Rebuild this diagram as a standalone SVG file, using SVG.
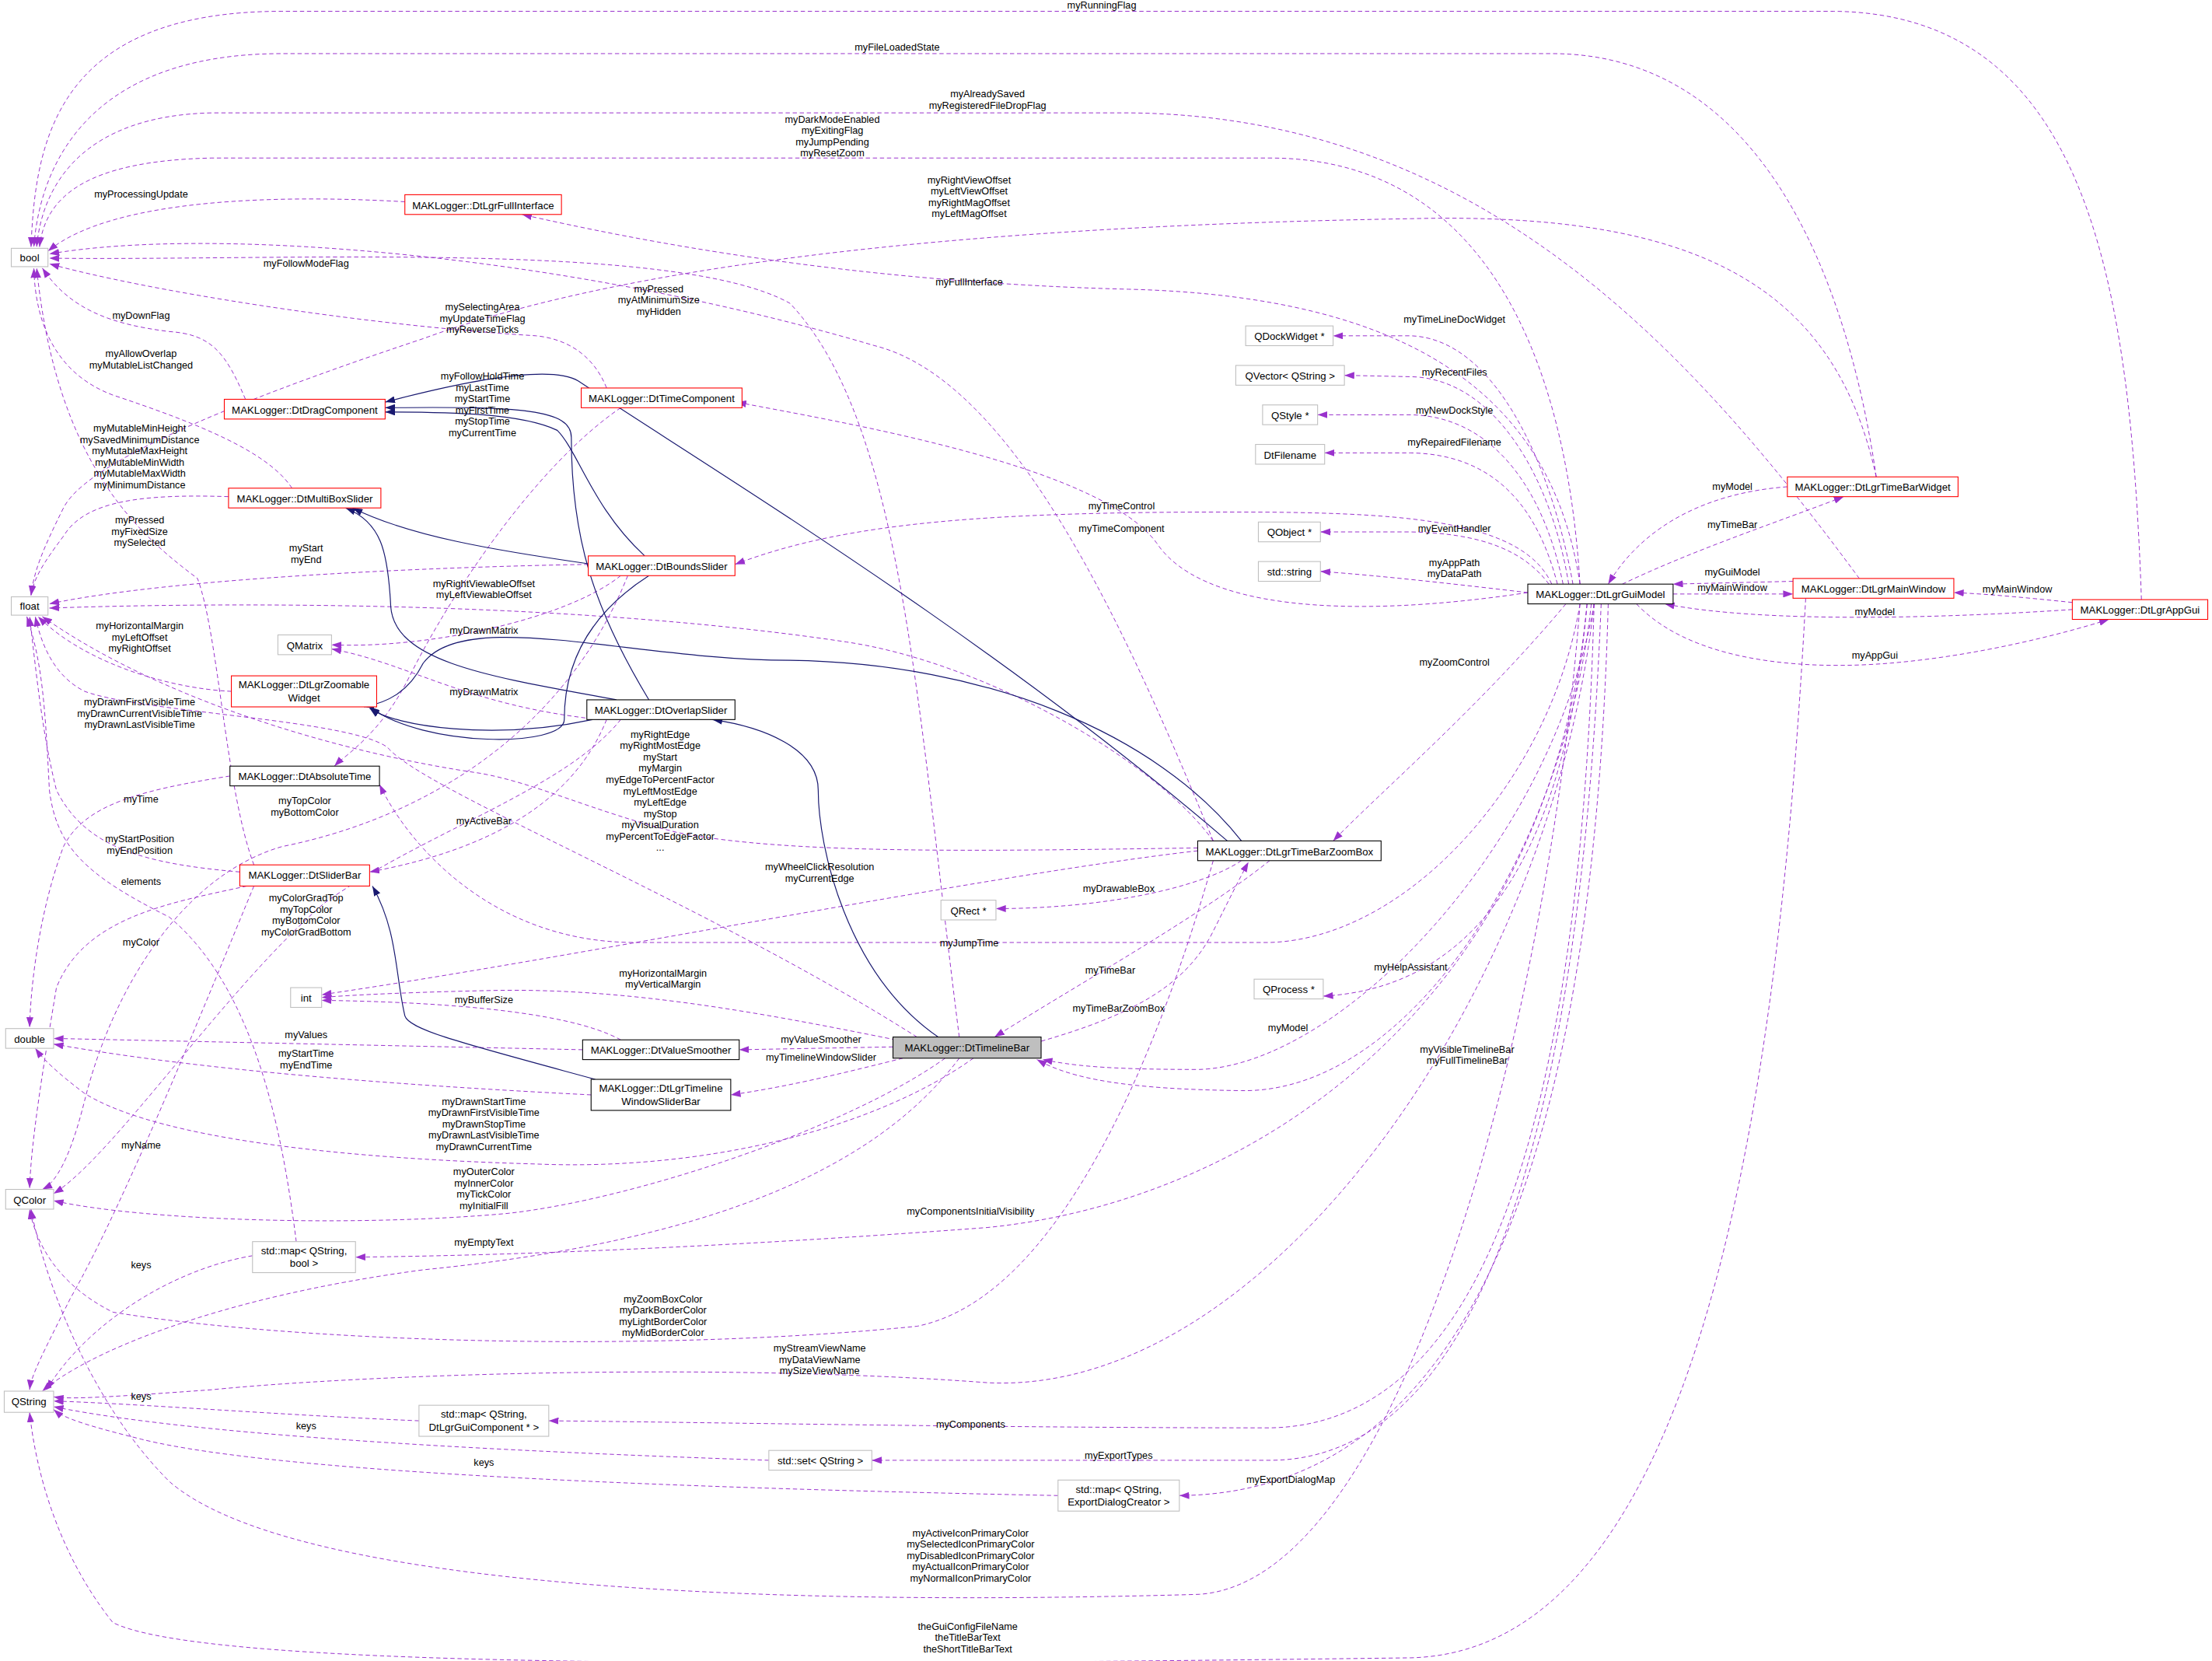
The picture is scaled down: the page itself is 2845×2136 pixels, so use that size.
<svg xmlns="http://www.w3.org/2000/svg" width="2845" height="2136" viewBox="0 0 2845 2136">
<style>
.n rect{fill:#fff;stroke-width:0.6}
.r rect{stroke:#ff0000}
.b rect{stroke:#000}
.g rect{stroke:#bfbfbf}
.n text{font-family:"Liberation Sans",Arial,sans-serif;font-size:7.3px;fill:#000;text-anchor:middle}
.e path{fill:none;stroke:#9a32cd;stroke-width:0.55;stroke-dasharray:3,2;marker-end:url(#pa)}
.i path{fill:none;stroke:#191970;stroke-width:0.65;marker-end:url(#na)}
.l text{font-family:"Liberation Sans",Arial,sans-serif;font-size:7px;fill:#000;text-anchor:middle}
</style>
<defs>
<marker id="pa" markerUnits="userSpaceOnUse" markerWidth="7" markerHeight="5" refX="7" refY="2.5" orient="auto"><path d="M0,0 L7,2.5 L0,5 z" fill="#9a32cd"/></marker>
<marker id="na" markerUnits="userSpaceOnUse" markerWidth="7" markerHeight="5" refX="7" refY="2.5" orient="auto"><path d="M0,0 L7,2.5 L0,5 z" fill="#191970"/></marker>
</defs>
<rect width="2845" height="2136" fill="#fff"/>
<g transform="scale(1.8144)">
<g id="connectors">
<g class="e">
<path d="M1518,425 C1510,200 1480,10 1300,8 L200,8 C40,8 25,100 22,175"/>
<path d="M1330,338 C1310,200 1250,38 1100,38 L200,38 C60,38 28,120 24,175"/>
<path d="M1318,410 C1200,250 1050,82 800,80 L150,80 C60,82 30,130 26,175"/>
<path d="M1120,414 C1110,250 1050,112 900,112 L150,112 C60,114 32,140 28,175"/>
<path d="M287,143 C200,138 80,140 34,178"/>
<path d="M680,735 C650,500 640,300 560,215 C480,170 200,185 35,183"/>
<path d="M860,596 C800,450 720,270 620,245 C400,180 150,160 35,180"/>
<path d="M430,275 C420,250 400,240 380,238 C250,230 100,205 35,187"/>
<path d="M174,283 C160,250 150,237 120,235 C80,230 50,220 30,190"/>
<path d="M207,346 C190,320 140,300 80,280 C40,265 25,230 24,190"/>
<path d="M180,613 C160,560 155,450 140,410 C100,380 40,330 26,190"/>
<path d="M162,352 C100,350 60,355 45,380 C30,400 24,410 22,422"/>
<path d="M417,400 C300,402 120,410 35,428"/>
<path d="M860,596 C820,540 700,470 600,455 C400,425 150,427 35,431"/>
<path d="M164,490 C120,488 60,470 27,437"/>
<path d="M650,735 C500,640 300,560 275,530 C250,510 100,505 60,490 C40,480 30,460 25,437"/>
<path d="M849,601 C700,603 560,606 480,590 C420,575 380,555 340,548 C250,535 120,500 30,437"/>
<path d="M170,618 C100,612 60,600 40,560 C30,520 26,480 21,437"/>
<path d="M210,880 C200,800 180,700 120,650 C60,620 40,600 35,560 C32,500 30,470 19,437"/>
<path d="M1330,338 C1300,200 1200,150 1000,155 C700,160 450,185 300,240 C150,290 60,330 45,360 C30,390 24,405 22,422"/>
<path d="M163,550 C100,560 60,570 45,600 C30,640 22,690 21,728"/>
<path d="M413,744 L38,736"/>
<path d="M419,776 C300,770 150,760 38,740"/>
<path d="M690,750 C620,800 500,830 380,825 C200,820 100,800 60,775 C40,760 30,750 25,743"/>
<path d="M175,628 C120,640 60,650 40,700 C30,760 22,810 21,842"/>
<path d="M445,408 C400,520 300,580 200,600 C130,620 80,700 60,780 C50,820 40,838 30,843"/>
<path d="M440,510 C400,560 300,590 230,640 C160,700 80,820 38,846"/>
<path d="M670,750 C600,800 450,850 360,860 C250,870 100,865 38,851"/>
<path d="M860,610 C820,750 750,920 650,940 C450,960 200,950 80,930 C40,910 25,880 21,857"/>
<path d="M1120,428 C1100,700 1000,1120 850,1130 C500,1140 200,1120 120,1050 C60,990 30,900 22,857"/>
<path d="M849,603 C700,620 400,680 228,705"/>
<path d="M640,738 C550,720 450,700 350,702 C300,703 250,705 228,707"/>
<path d="M440,737 C400,715 300,710 228,709"/>
<path d="M180,628 C150,700 90,850 50,920 C30,960 22,975 21,985"/>
<path d="M179,890 C120,900 60,940 33,985"/>
<path d="M680,750 C620,830 500,880 300,900 C150,920 60,960 30,986"/>
<path d="M1130,428 C1100,700 900,990 700,980 C500,965 250,975 150,985 C80,990 50,992 38,990"/>
<path d="M297,1007 C200,1003 100,995 38,993"/>
<path d="M545,1035 C400,1030 150,1020 38,997"/>
<path d="M750,1060 C500,1055 200,1045 100,1020 C60,1010 45,1005 38,999"/>
<path d="M1280,424 C1260,800 1200,1170 1000,1175 C600,1180 150,1185 80,1150 C40,1100 25,1040 21,1001"/>
<path d="M1125,428 C1100,700 900,850 700,870 C500,885 350,890 252,891"/>
<path d="M1130,428 C1120,800 1050,1010 900,1012 C700,1012 500,1008 389,1007"/>
<path d="M1135,428 C1120,800 1050,1035 900,1035 L618,1035"/>
<path d="M1140,428 C1130,800 1050,1058 836,1060"/>
<path d="M1115,414 C1100,330 1060,240 1000,238 L945,238"/>
<path d="M1112,414 C1100,340 1060,268 1000,267 L953,266"/>
<path d="M1108,414 C1095,350 1060,295 1000,294 L934,294"/>
<path d="M1104,414 C1090,360 1060,322 1000,321 L939,321"/>
<path d="M1098,414 C1080,390 1050,378 1000,377 L936,377"/>
<path d="M1083,420 C1040,415 980,408 936,405"/>
<path d="M1100,414 C1080,370 1000,364 900,363 C700,362 600,370 521,400"/>
<path d="M1083,420 C950,440 850,430 820,385 C780,330 600,300 522,285"/>
<path d="M1120,414 C1100,280 1000,210 800,205 C600,200 450,170 370,152"/>
<path d="M1110,428 C1050,500 980,560 945,596"/>
<path d="M1120,428 C1100,550 1000,665 900,668 L450,668 C350,668 290,600 269,556"/>
<path d="M1125,428 C1110,600 1050,700 938,706"/>
<path d="M1130,428 C1100,600 950,755 850,758 C780,758 760,755 739,751"/>
<path d="M1128,428 C1110,600 1000,775 880,773 C800,772 760,765 735,751"/>
<path d="M900,610 C850,650 760,700 705,735"/>
<path d="M738,738 C800,720 840,700 860,660 C870,640 880,620 885,611"/>
<path d="M880,610 C850,630 780,644 706,644"/>
<path d="M633,742 L524,744"/>
<path d="M640,750 C600,760 560,770 518,776"/>
<path d="M430,510 C410,560 360,600 262,618"/>
<path d="M440,289 C380,330 320,420 290,480 C270,520 245,535 237,543"/>
<path d="M440,408 C400,440 300,460 235,457"/>
<path d="M425,510 C330,500 290,470 235,460"/>
<path d="M1267,345 C1200,350 1160,380 1140,414"/>
<path d="M1150,414 C1200,390 1260,370 1307,352"/>
<path d="M1271,412 L1186,414"/>
<path d="M1186,421 L1271,421"/>
<path d="M1469,427 C1440,424 1410,421 1385,420"/>
<path d="M1469,432 C1380,438 1250,442 1180,428"/>
<path d="M1160,428 C1200,470 1280,475 1340,470 C1400,465 1460,450 1495,439"/>
</g>
<g class="i">
<path d="M420,400 C350,390 290,380 250,360"/>
<path d="M437,496 C350,480 280,470 277,430 C275,390 270,370 245,360"/>
<path d="M870,596 C700,450 500,330 410,270 C390,258 330,270 273,285"/>
<path d="M460,496 C420,430 405,380 405,310 C405,290 370,288 273,289"/>
<path d="M457,394 C420,360 410,320 395,305 C370,293 320,292 273,292"/>
<path d="M880,596 C820,520 700,470 560,468 C450,468 330,430 300,470 C290,490 275,498 258,501"/>
<path d="M460,408 C410,440 400,480 400,510 C400,530 300,530 262,501"/>
<path d="M420,510 C350,525 280,515 262,502"/>
<path d="M665,735 C600,690 580,600 580,560 C580,530 540,515 505,510"/>
<path d="M422,765 C330,740 290,730 287,720 C280,690 282,660 264,628"/>
</g>
<g class="l">
<text x="781" y="6">myRunningFlag</text>
<text x="636" y="36">myFileLoadedState</text>
<text x="700" y="69">myAlreadySaved</text><text x="700" y="77">myRegisteredFileDropFlag</text>
<text x="590" y="87">myDarkModeEnabled</text><text x="590" y="95">myExitingFlag</text><text x="590" y="103">myJumpPending</text><text x="590" y="111">myResetZoom</text>
<text x="100" y="140">myProcessingUpdate</text>
<text x="687" y="130">myRightViewOffset</text><text x="687" y="138">myLeftViewOffset</text><text x="687" y="146">myRightMagOffset</text><text x="687" y="154">myLeftMagOffset</text>
<text x="217" y="189">myFollowModeFlag</text>
<text x="687" y="202">myFullInterface</text>
<text x="467" y="207">myPressed</text><text x="467" y="215">myAtMinimumSize</text><text x="467" y="223">myHidden</text>
<text x="100" y="226">myDownFlag</text>
<text x="342" y="220">mySelectingArea</text><text x="342" y="228">myUpdateTimeFlag</text><text x="342" y="236">myReverseTicks</text>
<text x="100" y="253">myAllowOverlap</text><text x="100" y="261">myMutableListChanged</text>
<text x="342" y="269">myFollowHoldTime</text><text x="342" y="277">myLastTime</text><text x="342" y="285">myStartTime</text><text x="342" y="293">myFirstTime</text><text x="342" y="301">myStopTime</text><text x="342" y="309">myCurrentTime</text>
<text x="99" y="306">myMutableMinHeight</text><text x="99" y="314">mySavedMinimumDistance</text><text x="99" y="322">myMutableMaxHeight</text><text x="99" y="330">myMutableMinWidth</text><text x="99" y="338">myMutableMaxWidth</text><text x="99" y="346">myMinimumDistance</text>
<text x="795" y="361">myTimeControl</text>
<text x="795" y="377">myTimeComponent</text>
<text x="99" y="371">myPressed</text><text x="99" y="379">myFixedSize</text><text x="99" y="387">mySelected</text>
<text x="217" y="391">myStart</text><text x="217" y="399">myEnd</text>
<text x="343" y="416">myRightViewableOffset</text><text x="343" y="424">myLeftViewableOffset</text>
<text x="99" y="446">myHorizontalMargin</text><text x="99" y="454">myLeftOffset</text><text x="99" y="462">myRightOffset</text>
<text x="343" y="449">myDrawnMatrix</text>
<text x="343" y="493">myDrawnMatrix</text>
<text x="99" y="500">myDrawnFirstVisibleTime</text><text x="99" y="508">myDrawnCurrentVisibleTime</text><text x="99" y="516">myDrawnLastVisibleTime</text>
<text x="468" y="523">myRightEdge</text><text x="468" y="531">myRightMostEdge</text><text x="468" y="539">myStart</text><text x="468" y="547">myMargin</text><text x="468" y="555">myEdgeToPercentFactor</text><text x="468" y="563">myLeftMostEdge</text><text x="468" y="571">myLeftEdge</text><text x="468" y="579">myStop</text><text x="468" y="587">myVisualDuration</text><text x="468" y="595">myPercentToEdgeFactor</text><text x="468" y="603">...</text>
<text x="100" y="569">myTime</text>
<text x="216" y="570">myTopColor</text><text x="216" y="578">myBottomColor</text>
<text x="343" y="584">myActiveBar</text>
<text x="99" y="597">myStartPosition</text><text x="99" y="605">myEndPosition</text>
<text x="581" y="617">myWheelClickResolution</text><text x="581" y="625">myCurrentEdge</text>
<text x="100" y="627">elements</text>
<text x="793" y="632">myDrawableBox</text>
<text x="217" y="639">myColorGradTop</text><text x="217" y="647">myTopColor</text><text x="217" y="655">myBottomColor</text><text x="217" y="663">myColorGradBottom</text>
<text x="100" y="670">myColor</text>
<text x="687" y="671">myJumpTime</text>
<text x="1000" y="688">myHelpAssistant</text>
<text x="787" y="690">myTimeBar</text>
<text x="470" y="692">myHorizontalMargin</text><text x="470" y="700">myVerticalMargin</text>
<text x="343" y="711">myBufferSize</text>
<text x="793" y="717">myTimeBarZoomBox</text>
<text x="913" y="731">myModel</text>
<text x="1040" y="746">myVisibleTimelineBar</text><text x="1040" y="754">myFullTimelineBar</text>
<text x="217" y="736">myValues</text>
<text x="582" y="739">myValueSmoother</text>
<text x="217" y="749">myStartTime</text><text x="217" y="757">myEndTime</text>
<text x="582" y="752">myTimelineWindowSlider</text>
<text x="343" y="783">myDrawnStartTime</text><text x="343" y="791">myDrawnFirstVisibleTime</text><text x="343" y="799">myDrawnStopTime</text><text x="343" y="807">myDrawnLastVisibleTime</text><text x="343" y="815">myDrawnCurrentTime</text>
<text x="100" y="814">myName</text>
<text x="343" y="833">myOuterColor</text><text x="343" y="841">myInnerColor</text><text x="343" y="849">myTickColor</text><text x="343" y="857">myInitialFill</text>
<text x="688" y="861">myComponentsInitialVisibility</text>
<text x="343" y="883">myEmptyText</text>
<text x="100" y="899">keys</text>
<text x="470" y="923">myZoomBoxColor</text><text x="470" y="931">myDarkBorderColor</text><text x="470" y="939">myLightBorderColor</text><text x="470" y="947">myMidBorderColor</text>
<text x="581" y="958">myStreamViewName</text><text x="581" y="966">myDataViewName</text><text x="581" y="974">mySizeViewName</text>
<text x="100" y="992">keys</text>
<text x="688" y="1012">myComponents</text>
<text x="217" y="1013">keys</text>
<text x="793" y="1034">myExportTypes</text>
<text x="343" y="1039">keys</text>
<text x="915" y="1051">myExportDialogMap</text>
<text x="688" y="1089">myActiveIconPrimaryColor</text><text x="688" y="1097">mySelectedIconPrimaryColor</text><text x="688" y="1105">myDisabledIconPrimaryColor</text><text x="688" y="1113">myActualIconPrimaryColor</text><text x="688" y="1121">myNormalIconPrimaryColor</text>
<text x="686" y="1155">theGuiConfigFileName</text><text x="686" y="1163">theTitleBarText</text><text x="686" y="1171">theShortTitleBarText</text>
<text x="1031" y="229">myTimeLineDocWidget</text>
<text x="1031" y="266">myRecentFiles</text>
<text x="1031" y="293">myNewDockStyle</text>
<text x="1031" y="316">myRepairedFilename</text>
<text x="1031" y="377">myEventHandler</text>
<text x="1031" y="401">myAppPath</text><text x="1031" y="409">myDataPath</text>
<text x="1031" y="472">myZoomControl</text>
<text x="1228" y="347">myModel</text>
<text x="1228" y="374">myTimeBar</text>
<text x="1228" y="408">myGuiModel</text>
<text x="1228" y="419">myMainWindow</text>
<text x="1430" y="420">myMainWindow</text>
<text x="1329" y="436">myModel</text>
<text x="1329" y="467">myAppGui</text>
</g>
</g>
<g id="n_bool" class="n g"><rect x="8" y="176" width="26" height="13"/><text x="21" y="185">bool</text></g>
<g id="n_float" class="n g"><rect x="8" y="423" width="26" height="13"/><text x="21" y="432">float</text></g>
<g id="n_double" class="n g"><rect x="4" y="729" width="34" height="14"/><text x="21" y="739">double</text></g>
<g id="n_qcolor" class="n g"><rect x="4" y="843" width="34" height="14"/><text x="21" y="853">QColor</text></g>
<g id="n_qstring" class="n g"><rect x="3" y="986" width="35" height="15"/><text x="20.5" y="996">QString</text></g>
<g id="n_int" class="n g"><rect x="206" y="700" width="22" height="14"/><text x="217" y="710">int</text></g>
<g id="n_full" class="n r"><rect x="287" y="138" width="111" height="14"/><text x="342.5" y="148">MAKLogger::DtLgrFullInterface</text></g>
<g id="n_drag" class="n r"><rect x="159" y="283" width="114" height="14"/><text x="216" y="293">MAKLogger::DtDragComponent</text></g>
<g id="n_multi" class="n r"><rect x="162" y="346" width="108" height="14"/><text x="216" y="356">MAKLogger::DtMultiBoxSlider</text></g>
<g id="n_timecomp" class="n r"><rect x="412" y="275" width="114" height="14"/><text x="469" y="285">MAKLogger::DtTimeComponent</text></g>
<g id="n_bounds" class="n r"><rect x="417" y="394" width="104" height="14"/><text x="469" y="404">MAKLogger::DtBoundsSlider</text></g>
<g id="n_qmatrix" class="n g"><rect x="197" y="450" width="38" height="14"/><text x="216" y="460">QMatrix</text></g>
<g id="n_zoomable" class="n r"><rect x="164" y="479" width="103" height="22"/><text x="215.5" y="488">MAKLogger::DtLgrZoomable</text><text x="215.5" y="497">Widget</text></g>
<g id="n_overlap" class="n b"><rect x="416" y="496" width="105" height="14"/><text x="468.5" y="506">MAKLogger::DtOverlapSlider</text></g>
<g id="n_abs" class="n b"><rect x="163" y="543" width="106" height="14"/><text x="216" y="553">MAKLogger::DtAbsoluteTime</text></g>
<g id="n_sliderbar" class="n r"><rect x="170" y="613" width="92" height="15"/><text x="216" y="623">MAKLogger::DtSliderBar</text></g>
<g id="n_mapbool" class="n g"><rect x="179" y="880" width="73" height="22"/><text x="215.5" y="889">std::map&lt; QString,</text><text x="215.5" y="898">bool &gt;</text></g>
<g id="n_mapcomp" class="n g"><rect x="297" y="996" width="92" height="22"/><text x="343" y="1005">std::map&lt; QString,</text><text x="343" y="1014">DtLgrGuiComponent * &gt;</text></g>
<g id="n_set" class="n g"><rect x="545" y="1028" width="73" height="14"/><text x="581.5" y="1038">std::set&lt; QString &gt;</text></g>
<g id="n_mapexp" class="n g"><rect x="750" y="1049" width="86" height="22"/><text x="793" y="1058">std::map&lt; QString,</text><text x="793" y="1067">ExportDialogCreator &gt;</text></g>
<g id="n_qrect" class="n g"><rect x="667" y="638" width="39" height="14"/><text x="686.5" y="648">QRect *</text></g>
<g id="n_qprocess" class="n g"><rect x="889" y="694" width="49" height="14"/><text x="913.5" y="704">QProcess *</text></g>
<g id="n_smoother" class="n b"><rect x="413" y="737" width="111" height="14"/><text x="468.5" y="747">MAKLogger::DtValueSmoother</text></g>
<g id="n_twsb" class="n b"><rect x="419" y="765" width="99" height="22"/><text x="468.5" y="774">MAKLogger::DtLgrTimeline</text><text x="468.5" y="783">WindowSliderBar</text></g>
<g id="n_timelinebar" class="n b"><rect x="633" y="735" width="105" height="15" style="fill:#bfbfbf"/><text x="685.5" y="745">MAKLogger::DtTimelineBar</text></g>
<g id="n_zoombox" class="n b"><rect x="849" y="596" width="130" height="14"/><text x="914" y="606">MAKLogger::DtLgrTimeBarZoomBox</text></g>
<g id="n_qdock" class="n g"><rect x="883" y="231" width="62" height="14"/><text x="914" y="241">QDockWidget *</text></g>
<g id="n_qvector" class="n g"><rect x="876" y="259" width="77" height="14"/><text x="914.5" y="269">QVector&lt; QString &gt;</text></g>
<g id="n_qstyle" class="n g"><rect x="895" y="287" width="39" height="14"/><text x="914.5" y="297">QStyle *</text></g>
<g id="n_dtfilename" class="n g"><rect x="890" y="315" width="49" height="14"/><text x="914.5" y="325">DtFilename</text></g>
<g id="n_qobject" class="n g"><rect x="892" y="370" width="44" height="14"/><text x="914" y="380">QObject *</text></g>
<g id="n_stdstring" class="n g"><rect x="892" y="398" width="44" height="14"/><text x="914" y="408">std::string</text></g>
<g id="n_guimodel" class="n b"><rect x="1083" y="414" width="103" height="14"/><text x="1134.5" y="424">MAKLogger::DtLgrGuiModel</text></g>
<g id="n_tbwidget" class="n r"><rect x="1267" y="338" width="121" height="14"/><text x="1327.5" y="348">MAKLogger::DtLgrTimeBarWidget</text></g>
<g id="n_mainwin" class="n r"><rect x="1271" y="410" width="114" height="14"/><text x="1328" y="420">MAKLogger::DtLgrMainWindow</text></g>
<g id="n_appgui" class="n r"><rect x="1469" y="425" width="96" height="14"/><text x="1517" y="435">MAKLogger::DtLgrAppGui</text></g>
</g>
</svg>
